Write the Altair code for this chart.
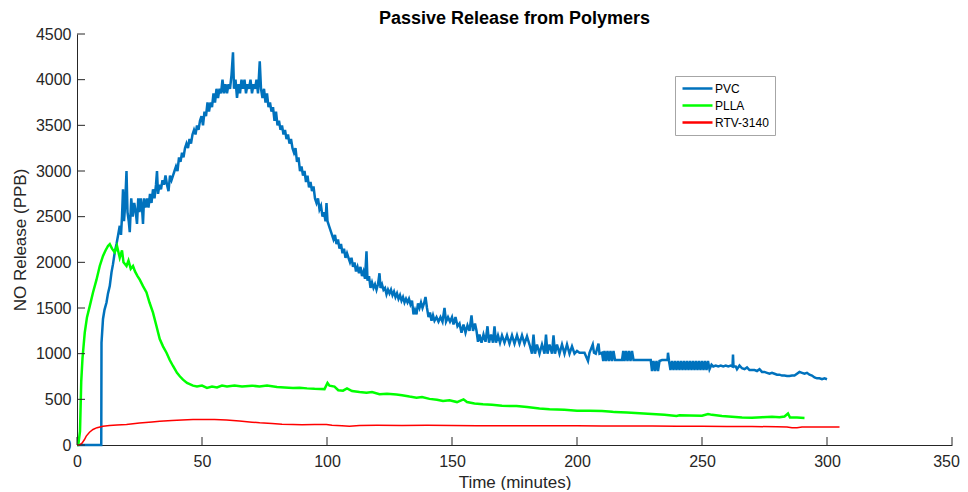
import altair as alt
import pandas as pd

series_names = ["PVC", "PLLA", "RTV-3140"]
series_colors = ["#0072BD", "#00FF00", "#FF0000"]
x_ticks = [0, 50, 100, 150, 200, 250, 300, 350]
y_ticks = [0, 500, 1000, 1500, 2000, 2500, 3000, 3500, 4000, 4500]

pvc_t = [0, 9.7, 9.8, 10.4, 11.0, 11.8, 12.4, 13.1, 13.8, 14.4, 15.1, 15.8, 16.4, 17.1, 17.6, 18.0, 18.4, 18.8,
         19.2, 19.8, 20.2, 20.7, 21.1, 21.7, 22.3, 22.9, 23.5, 24.0, 24.5, 25.0, 25.5, 26.0, 26.4, 26.8, 27.4,
         28.0, 28.6, 29.2, 29.8, 30.4, 31.0, 31.6, 32.0, 32.4, 33.0, 33.6, 34.2, 34.8, 35.4, 36.0, 36.6, 37.2,
         37.8, 38.4, 39.0, 39.6, 40.2, 40.8, 41.4, 42.0, 42.6, 43.2, 43.8, 44.4, 45.0, 45.6, 46.2, 46.8, 47.4,
         48.0, 48.6, 49.2, 49.8, 50.4, 51.0, 51.6, 52.2, 52.8, 53.4, 54.0, 54.6, 55.2, 55.8, 56.4, 57.0, 57.6,
         58.2, 58.8, 59.4, 60.0, 60.6, 61.2, 61.8, 62.4, 62.8, 63.4, 64.0, 64.6, 65.2, 65.8, 66.4, 67.0, 67.6,
         68.2, 68.8, 69.4, 70.0, 70.6, 71.2, 71.8, 72.4, 73.1, 73.6, 74.2, 74.8, 75.4, 76.0, 76.6, 77.2, 77.8,
         78.4, 79.0, 79.6, 80.2, 80.8, 81.4, 82.0, 82.6, 83.2, 83.8, 84.4, 85.0, 85.6, 86.2, 86.8, 87.4, 88.0,
         88.6, 89.2, 89.8, 90.4, 91.0, 91.6, 92.2, 92.8, 93.4, 94.0, 94.6, 95.2, 95.8, 96.4, 97.0, 97.6, 98.2,
         98.8, 99.4, 99.8, 100.2, 100.8, 101.4, 102.0, 102.6, 103.2, 103.8, 104.4, 105.0, 105.6, 106.2, 106.8,
         107.4, 108.0, 108.6, 109.2, 109.8, 110.4, 111.0, 111.6, 112.2, 112.8, 113.4, 114.0, 114.6, 115.2,
         115.8, 116.2, 116.8, 117.4, 118.0, 118.6, 119.2, 119.8, 120.4, 121.0, 121.4, 122.0, 122.6, 123.2,
         123.8, 124.4, 125.0, 125.6, 126.2, 126.8, 127.4, 128.0, 128.6, 129.2, 129.8, 130.4, 131.0, 131.6,
         132.2, 132.8, 133.4, 134.0, 134.6, 135.2, 135.8, 136.4, 137.0, 137.6, 138.2, 138.8, 139.4, 140.0,
         140.6, 141.2, 141.8, 142.4, 143.0, 143.8, 144.6, 145.4, 146.2, 147.0, 147.6, 148.4, 149.2, 150.0,
         150.6, 151.4, 152.2, 153.0, 153.8, 154.6, 155.4, 156.2, 157.0, 157.8, 158.4, 159.2, 159.8, 160.4,
         161.0, 161.8, 162.6, 163.4, 164.2, 164.8, 165.6, 166.4, 167.0, 167.6, 168.4, 169.2, 170.0, 171.0,
         172.0, 173.0, 174.0, 175.0, 176.0, 177.0, 178.0, 179.0, 180.0, 181.0, 182.0, 182.6, 183.2, 184.0,
         185.0, 186.0, 187.0, 187.6, 188.2, 189.0, 190.0, 190.6, 191.2, 192.0, 193.0, 194.0, 195.0, 196.0,
         197.0, 198.0, 199.0, 200.0, 201.0, 203.0, 204.4, 205.0, 206.3, 206.8, 207.5, 208.6, 209.0, 210.0,
         210.5, 211.0, 211.6, 212.2, 212.8, 213.4, 214.0, 214.6, 215.2, 216.0, 217.0, 218.0, 218.5, 219.0,
         219.6, 220.2, 220.8, 221.4, 222.0, 222.6, 224.0, 226.0, 228.0, 229.5, 230.0, 230.6, 231.2, 231.8,
         232.4, 233.0, 234.0, 235.0, 236.2, 236.4, 236.8, 237.4, 238.0, 238.6, 239.2, 239.8, 240.4, 241.0,
         241.6, 242.2, 242.8, 243.4, 244.0, 244.6, 245.2, 245.8, 246.4, 247.0, 247.6, 248.2, 248.8, 249.4,
         250.0, 250.6, 251.2, 251.8, 252.4, 253.0, 253.8, 254.5, 255.5, 256.5, 257.5, 258.5, 259.5, 260.5,
         261.5, 262.2, 262.4, 262.6, 263.5, 264.0, 265.0, 266.0, 267.0, 268.0, 269.0, 270.0, 271.0, 272.0,
         273.0, 274.0, 275.0, 276.0, 277.0, 278.0, 279.0, 280.0, 281.0, 282.0, 283.0, 284.0, 285.0, 286.0,
         287.0, 288.0, 289.0, 290.0, 291.0, 292.0, 293.0, 294.0, 295.0, 296.0, 297.0, 298.0, 299.0, 300.0]
pvc_v = [0, 0, 1120, 1380, 1480, 1560, 1660, 1740, 1890, 1980, 2110, 2200, 2290, 2400, 2300, 2500, 2800, 2450,
         2600, 3000, 2550, 2450, 2330, 2700, 2500, 2650, 2550, 2420, 2700, 2550, 2700, 2600, 2420, 2700, 2600,
         2700, 2600, 2750, 2650, 2800, 2700, 2850, 3000, 2750, 2850, 2800, 2900, 2850, 2950, 2850, 2780, 2950,
         2900, 2950, 3000, 3050, 3000, 3150, 3100, 3200, 3150, 3250, 3300, 3250, 3350, 3300, 3400, 3450, 3400,
         3500, 3450, 3550, 3600, 3500, 3650, 3600, 3750, 3650, 3750, 3700, 3850, 3750, 3900, 3800, 3900, 3850,
         4000, 3850, 3950, 3850, 3950, 3900, 4050, 4300, 3900, 4000, 3800, 3950, 3850, 4000, 3900, 4000, 3850,
         3950, 3900, 4000, 3850, 3950, 3900, 4000, 3850, 4200, 3900, 3800, 3900, 3750, 3850, 3700, 3750, 3650,
         3700, 3550, 3650, 3500, 3550, 3450, 3500, 3400, 3450, 3350, 3400, 3300, 3350, 3250, 3200, 3250, 3100,
         3150, 3000, 3050, 2950, 3000, 2880, 2950, 2820, 2880, 2780, 2830, 2700, 2650, 2700, 2580, 2620, 2500,
         2550, 2450, 2650, 2450, 2400, 2350, 2300, 2250, 2300, 2200, 2250, 2150, 2200, 2100, 2150,
         2050, 2100, 2050, 2000, 2050, 1950, 2000, 1900, 1950, 1880, 1950, 1850, 1900, 1820,
         2120, 1800, 1850, 1720, 1780, 1720, 1760, 1700, 1760, 1880, 1720, 1760, 1700, 1720,
         1650, 1700, 1660, 1700, 1640, 1680, 1620, 1660, 1600, 1640, 1580, 1620, 1560, 1600,
         1560, 1600, 1540, 1580, 1430, 1480, 1430, 1550, 1500, 1560, 1500, 1550, 1620, 1500,
         1400, 1450, 1360, 1420, 1360, 1400, 1350, 1400, 1350, 1500, 1350, 1400, 1350, 1400,
         1320, 1400, 1300, 1330, 1230, 1320, 1230, 1310, 1250, 1420, 1250, 1330, 1250, 1130,
         1210, 1120, 1210, 1130, 1300, 1120, 1210, 1120, 1300, 1120, 1200, 1120, 1200, 1120,
         1200, 1110, 1200, 1110, 1200, 1110, 1200, 1110, 1190, 1100, 1000, 1210, 1000, 1100,
         1000, 1100, 1000, 1210, 1000, 1100, 1000, 1200, 1000, 1100, 1000, 1100, 1000, 1100,
         1000, 1080, 1000, 1030, 1010, 1010, 920, 1010, 1100, 1010, 1000, 1110, 1000, 1010,
         920, 1030, 920, 1030, 920, 1030, 920, 1030, 930, 930, 930, 930, 1030, 920,
         1030, 920, 1030, 920, 1030, 930, 930, 930, 930, 930, 810, 920, 810, 920,
         810, 920, 930, 930, 930, 1010, 920, 820, 920, 820, 920, 820, 920, 820,
         920, 820, 920, 820, 920, 820, 920, 820, 920, 820, 920, 820, 920, 820,
         920, 820, 920, 820, 920, 830, 880, 860, 870, 860, 870, 860, 870, 860,
         870, 860, 990, 860, 860, 830, 870, 840, 830, 850, 820, 820, 820, 810,
         830, 800, 800, 790, 780, 790, 780, 770, 770, 760, 760, 755, 755, 760,
         760, 780, 800, 790, 780, 790, 770, 760, 740, 730, 730, 720, 730, 720]

plla_t = [0, 0.5, 1.2, 1.7, 2.2, 3.1, 4.0, 5.1, 6.4, 7.8, 9.1, 10.4, 11.4, 12.4, 13.1, 14.0, 15.1, 16.0, 17.1,
          18.0, 18.6, 19.8, 20.6, 21.5, 22.4, 23.2, 24.2, 25.1, 26.4, 27.8, 29.0, 30.4, 31.8, 33.1, 34.4, 35.8,
          37.1, 38.4, 40.0, 41.2, 42.4, 44.0, 46.4, 48.0, 50.0, 52.0, 54.0, 56.0, 58.0, 60.0, 63.0, 66.0, 70.0,
          73.0, 76.0, 80.0, 83.0, 86.4, 89.0, 92.0, 95.0, 99.0, 100.2, 101.0, 103.0, 104.5, 106.4, 108.0, 110.0,
          113.0, 115.8, 118.0, 121.0, 124.0, 127.8, 130.0, 133.0, 135.8, 138.0, 141.0, 144.0, 146.4, 149.0,
          152.0, 154.6, 156.0, 159.0, 162.4, 166.0, 170.0, 175.8, 180.0, 185.0, 189.0, 195.0, 200.0, 205.0,
          210.0, 214.0, 215.0, 220.0, 225.0, 230.0, 235.0, 239.8, 241.0, 245.0, 250.0, 252.4, 254.0, 258.0,
          262.0, 266.0, 270.0, 274.0, 278.0, 281.0, 283.0, 284.4, 285.2, 288.0, 291.0]
plla_v = [0, 0, 150, 700, 950, 1230, 1400, 1520, 1670, 1810, 1960, 2070, 2130, 2180, 2200, 2150, 2110, 2180, 2050,
          2130, 2000, 1960, 2020, 1930, 1960, 1900, 1850, 1810, 1740, 1670, 1560, 1450, 1300, 1160, 1080, 1010,
          930, 865, 790, 750, 715, 680, 650, 640, 650, 625, 640, 630, 650, 640, 650, 640, 650,
          640, 650, 635, 630, 625, 628, 620, 615, 612, 680, 650, 640, 600, 595, 620, 590,
          580, 573, 580, 555, 560, 554, 545, 530, 518, 525, 505, 495, 481, 490,
          470, 500, 470, 455, 445, 440, 430, 426, 415, 400, 392, 385, 375, 375,
          372, 365, 360, 355, 348, 340, 330, 318, 326, 322, 320, 340, 330, 318,
          310, 300, 298, 305, 308, 303, 312, 345, 300, 300, 296]

rtv_t = [0, 1, 2, 3, 3.7, 5, 6.4, 8, 10.4, 13, 16, 19.8, 25, 30, 33.1, 38, 42, 46.4, 50, 55, 59.8, 65, 70, 73.1,
         78, 82, 86.4, 90, 95, 99.8, 102, 106, 109, 113, 120, 130, 140, 150, 160, 170, 180, 190, 200, 210, 220,
         230, 240, 250, 260, 270, 280, 284, 286, 288, 290, 295, 300, 305]
rtv_v = [0, 0, 20, 60, 97, 140, 170, 190, 206, 213, 220, 225, 240, 252, 261, 268, 275, 280, 278, 280, 273, 262,
         250, 243, 235, 228, 225, 222, 225, 225, 215, 210, 206, 214, 215, 213, 215, 213, 212, 210, 212, 210, 210,
         208, 207, 207, 206, 204, 203, 202, 200, 198, 188, 190, 198, 198, 198, 198]

series_data = {"PVC": (pvc_t, pvc_v), "PLLA": (plla_t, plla_v), "RTV-3140": (rtv_t, rtv_v)}
rows = []
for name in series_names:
    ts, vs = series_data[name]
    for i, (t, v) in enumerate(zip(ts, vs)):
        rows.append({"series": name, "t": t, "v": v, "i": i})
df = pd.DataFrame(rows)

FONT = "Liberation Sans"
AX = "#262626"

xscale = alt.Scale(domain=[0, 350], nice=False, zero=False)
yscale = alt.Scale(domain=[0, 4500], nice=False)
xaxis = alt.Axis(values=x_ticks, title="Time (minutes)", grid=False, ticks=False, labelFlush=False,
                 labelPadding=8, titlePadding=5, format="d",
                 labelOffset={"condition": {"test": "datum.value === 350", "value": -6}, "value": 0})
yaxis = alt.Axis(values=y_ticks, title="NO Release (PPB)", grid=False, ticks=False, labelFlush=False,
                 labelPadding=6, titlePadding=6, format="d")

color = alt.Color(
    "series:N",
    scale=alt.Scale(domain=series_names, range=series_colors),
    sort=series_names,
    legend=alt.Legend(
        title=None, orient="none", legendX=598, legendY=42,
        symbolType="M-1,0H5", symbolSize=100, symbolStrokeWidth=2.5,
        labelFont=FONT, labelFontSize=12, labelColor="#000000",
        fillColor="#ffffff", strokeColor="#a6a6a6", padding=6,
        rowPadding=4, labelOffset=21,
    ),
)

widths = {"PVC": 2.5, "PLLA": 2.5, "RTV-3140": 1.5}
layers = []
for name in series_names:
    layers.append(
        alt.Chart(df).transform_filter(alt.datum.series == name)
        .mark_line(strokeWidth=widths[name], interpolate="linear")
        .encode(
            x=alt.X("t:Q", scale=xscale, axis=xaxis),
            y=alt.Y("v:Q", scale=yscale, axis=yaxis),
            color=color,
            order="i:Q",
        )
    )

xtick_df = pd.DataFrame({"t": x_ticks})
ytick_df = pd.DataFrame({"v": y_ticks})
xtick_layer = alt.Chart(xtick_df).mark_rule(color=AX, strokeWidth=1).encode(
    x=alt.X("t:Q", scale=xscale, axis=xaxis), y=alt.value(411), y2=alt.value(403))
ytick_layer = alt.Chart(ytick_df).mark_rule(color=AX, strokeWidth=1).encode(
    y=alt.Y("v:Q", scale=yscale, axis=yaxis), x=alt.value(0), x2=alt.value(8))

chart = alt.layer(*layers, xtick_layer, ytick_layer).properties(
    width=875, height=411,
    title=alt.TitleParams("Passive Release from Polymers", font=FONT, fontSize=18, fontWeight="bold",
                          color="#000000", offset=-2, frame="group"),
    autosize=alt.AutoSizeParams(type="none"),
    padding={"left": 69, "top": 26, "right": 8, "bottom": 45},
).configure_view(stroke=None).configure_axis(
    labelFont=FONT, titleFont=FONT, labelFontSize=16, titleFontSize=17, titleFontWeight="normal",
    labelColor=AX, titleColor=AX, domainColor=AX, domainWidth=1,
)

chart.save("out.html", embed_options={"renderer": "svg", "actions": False})
